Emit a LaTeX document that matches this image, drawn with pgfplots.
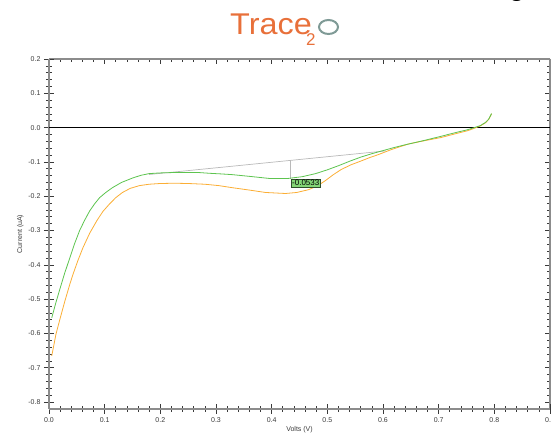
\documentclass[border=0pt]{standalone}
\usepackage{pgfplots}
\pgfplotsset{compat=1.18}
\usepackage{fontspec}
\setmainfont{Liberation Sans}
\definecolor{cgreen}{HTML}{5DC44F}
\definecolor{corange}{HTML}{FBAE35}
\definecolor{axgray}{HTML}{8C8C8C}
\definecolor{tkc}{HTML}{3A3A3A}
\definecolor{logoor}{HTML}{E8703A}
\definecolor{logogr}{HTML}{7F9A96}
\definecolor{boxfill}{HTML}{84D676}
\definecolor{boxdraw}{HTML}{2F4F2A}
\pgfplotsset{
  common/.style={
    at={(0pt,0pt)}, anchor=south west,
    scale only axis, width=501pt, height=350pt,
    xmin=0, xmax=0.9, ymin=-0.82, ymax=0.2,
    xtick={0,0.1,0.2,0.3,0.4,0.5,0.6,0.7,0.8,0.9},
    ytick={-0.8,-0.7,-0.6,-0.5,-0.4,-0.3,-0.2,-0.1,0,0.1,0.2},
    minor x tick num=4, minor y tick num=4,
    axis line style={-, draw=axgray, line width=2pt},
    tick style={tkc, line width=0.7pt},
    every outer x axis line/.append style={-},
    every outer y axis line/.append style={-},
  }
}
\begin{document}
\begin{tikzpicture}
\begin{axis}[common,
  axis x line*=top, axis y line*=right,
  tick align=inside, major tick length=5pt, minor tick length=3pt,
  xticklabels={}, yticklabels={},
]
\addplot[draw=none] coordinates {(0,0)};
\end{axis}
\begin{axis}[common,
  axis x line*=bottom, axis y line*=left,
  tick align=center, major tick length=10pt, minor tick length=6pt,
  xticklabels={0.0,0.1,0.2,0.3,0.4,0.5,0.6,0.7,0.8,0.9},
  yticklabels={-0.8,-0.7,-0.6,-0.5,-0.4,-0.3,-0.2,-0.1,0.0,0.1,0.2},
  ticklabel style={font=\fontsize{7}{8}\selectfont, text=tkc},
  xlabel={Volts (V)}, ylabel={Current (uA)},
  label style={font=\fontsize{7}{8}\selectfont, text=tkc},
  xlabel style={yshift=3pt},
  ylabel style={yshift=-2pt},
  clip=false,
]
\addplot[black, line width=0.9pt] coordinates {(0,0) (0.9,0)};
\addplot[gray!55, line width=0.7pt] coordinates {(0.18,-0.1366) (0.605,-0.0678)};
\addplot[gray!55, line width=0.7pt] coordinates {(0.434,-0.0955) (0.434,-0.149)};
\addplot[corange, line width=0.8pt] coordinates {
(0.005,-0.665) (0.0125,-0.602) (0.020,-0.556) (0.0286,-0.505) (0.0375,-0.456) (0.043,-0.428) (0.052,-0.387) (0.061,-0.350) (0.073,-0.308) (0.086,-0.271) (0.097,-0.244) (0.109,-0.222) (0.120,-0.204) (0.132,-0.189) (0.146,-0.177) (0.1625,-0.169) (0.180,-0.165) (0.198,-0.163) (0.225,-0.162) (0.252,-0.163) (0.280,-0.165) (0.305,-0.169) (0.329,-0.175) (0.360,-0.182) (0.389,-0.189) (0.425,-0.192) (0.445,-0.189) (0.466,-0.181) (0.482,-0.170) (0.496,-0.155) (0.510,-0.138) (0.525,-0.122) (0.543,-0.108) (0.561,-0.097) (0.575,-0.088) (0.591,-0.079) (0.615,-0.064) (0.645,-0.048) (0.675,-0.038) (0.704,-0.029) (0.730,-0.018) (0.752,-0.009) (0.764,-0.002) (0.775,0.005) (0.784,0.014) (0.790,0.024) (0.795,0.040)
};
\addplot[cgreen, line width=0.8pt] coordinates {
(0.005,-0.554) (0.012,-0.512) (0.020,-0.468) (0.028,-0.425) (0.0375,-0.379) (0.046,-0.338) (0.055,-0.300) (0.064,-0.270) (0.073,-0.243) (0.082,-0.222) (0.091,-0.204) (0.102,-0.189) (0.114,-0.175) (0.130,-0.160) (0.150,-0.147) (0.165,-0.139) (0.180,-0.134) (0.200,-0.132) (0.221,-0.131) (0.245,-0.131) (0.270,-0.131) (0.2875,-0.133) (0.310,-0.135) (0.329,-0.137) (0.360,-0.142) (0.395,-0.148) (0.430,-0.148) (0.455,-0.143) (0.479,-0.134) (0.500,-0.123) (0.520,-0.111) (0.540,-0.098) (0.560,-0.086) (0.580,-0.076) (0.600,-0.067) (0.620,-0.058) (0.640,-0.050) (0.675,-0.037) (0.705,-0.025) (0.734,-0.013) (0.750,-0.007) (0.764,0.0) (0.775,0.006) (0.784,0.015) (0.790,0.025) (0.795,0.041)
};
\node[draw=boxdraw, fill=boxfill, anchor=north west, inner sep=1.3pt, line width=0.6pt,
  font=\fontsize{8}{9}\selectfont, text=black] at (axis cs:0.434,-0.149) {-0.0533};
\end{axis}
% logo
\node[anchor=base west, inner sep=0pt, text=logoor] at (181pt,374pt) {\scalebox{1.08}[1]{\fontsize{30}{30}\selectfont Trace}};
\node[anchor=base west, inner sep=0pt, text=logoor] at (257pt,363pt) {\fontsize{17}{17}\selectfont 2};
\draw[logogr, line width=2pt] (279.5pt,382pt) ellipse [x radius=9.5pt, y radius=7pt];
\node[anchor=base, inner sep=0pt] at (468pt,413pt) {\fontsize{29}{29}\selectfont g};
\pgfresetboundingbox
\path[use as bounding box] (-49pt,-29pt) rectangle (502pt,409pt);
\end{tikzpicture}
\end{document}
